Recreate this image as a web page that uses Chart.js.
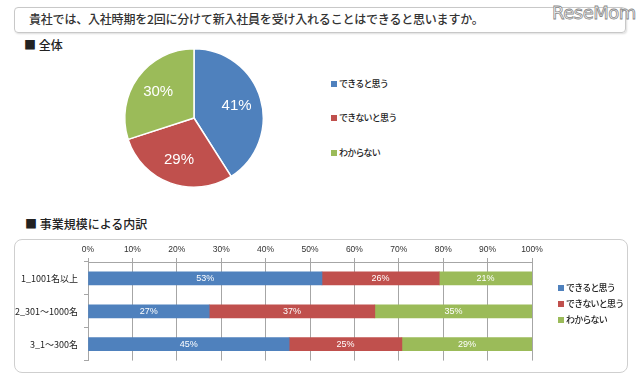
<!DOCTYPE html>
<html><head><meta charset="utf-8">
<script src="https://cdn.jsdelivr.net/npm/chart.js@4/dist/chart.umd.min.js"></script>
<style>
html,body{margin:0;padding:0;background:#fff;width:640px;height:385px;overflow:hidden;font-family:"Noto Sans CJK JP",sans-serif;}
.abs{position:absolute;}
#titlebox{left:14px;top:7px;width:610px;height:24px;border:1px solid #c8c8c8;border-radius:4px;box-shadow:1px 1px 2px #ddd;}
#title{left:29px;top:10px;font-size:12px;color:#333;font-weight:500;letter-spacing:-0.2px;}
#logo{left:552px;top:2px;font-family:"DejaVu Sans",sans-serif;font-size:18px;color:#fff;-webkit-text-stroke:0.8px #888;letter-spacing:-0.5px;}
.h{font-size:12px;color:#222;font-weight:500;}
#barbox{left:14px;top:239px;width:612px;height:132px;border:1px solid #cfcfcf;border-radius:8px;}
.lg{font-size:9px;color:#222;font-weight:500;letter-spacing:-0.8px;}
.sq{display:inline-block;width:6px;height:6px;margin-right:2px;vertical-align:0px;}
</style></head>
<body>
<div class="abs" id="titlebox"></div>
<div class="abs" id="title">貴社では、入社時期を2回に分けて新入社員を受け入れることはできると思いますか。</div>
<div class="abs" id="logo">ReseMom</div>
<div class="abs h" style="left:24px;top:36px;">■ 全体</div>
<div class="abs h" style="left:25px;top:215px;">■ 事業規模による内訳</div>
<div class="abs" id="barbox"></div>
<canvas id="pie" class="abs" style="left:122px;top:46px;" width="144" height="144"></canvas>
<canvas id="bar" class="abs" style="left:14px;top:239px;" width="614" height="133"></canvas>
<div id="pieLegend"></div>
<div id="barLegend"></div>
<script>
const seriesNames = ["できると思う", "できないと思う", "わからない"];
const colors = ["#4F81BD", "#C0504D", "#9BBB59"];
const pieValues = [41, 29, 30];
const categories = ["1_1001名以上", "2_301〜1000名", "3_1〜300名"];
const canValues = [52.7, 27.3, 45.3];
const cannotValues = [26.4, 37.3, 25.4];
const unknownValues = [20.9, 35.4, 29.3];
const xTicks = [0,10,20,30,40,50,60,70,80,90,100];

// HTML legends
function makeLegend(id, left, tops){
  const el = document.getElementById(id);
  seriesNames.forEach((n,i)=>{
    const d = document.createElement('div');
    d.className='abs lg'; d.style.left=left+'px'; d.style.top=tops[i]+'px';
    d.innerHTML = '<span class="sq" style="background:'+colors[i]+'"></span>'+n;
    el.appendChild(d);
  });
}
makeLegend('pieLegend', 331, [77,111,146]);
makeLegend('barLegend', 558, [281,297,313]);

const pieLabelPlugin = {
  id:'pieLabels',
  afterDatasetsDraw(chart){
    const ctx = chart.ctx;
    const meta = chart.getDatasetMeta(0);
    ctx.save();
    ctx.fillStyle='#fff'; ctx.font='15px "Liberation Sans", sans-serif';
    ctx.textAlign='center'; ctx.textBaseline='middle';
    meta.data.forEach((arc,i)=>{
      const p = arc.getProps(['x','y','startAngle','endAngle','outerRadius'], true);
      const a = (p.startAngle+p.endAngle)/2;
      const r = p.outerRadius*0.64;
      ctx.fillText(pieValues[i]+'%', p.x+Math.cos(a)*r, p.y+Math.sin(a)*r);
    });
    ctx.restore();
  }
};

new Chart(document.getElementById('pie'), {
  type:'pie',
  data:{labels:seriesNames, datasets:[{data:pieValues, backgroundColor:colors, borderColor:'#fff', borderWidth:1.5}]},
  options:{responsive:false, animation:false, layout:{padding:2},
    plugins:{legend:{display:false}, tooltip:{enabled:false}}},
  plugins:[pieLabelPlugin]
});

const barLabelPlugin = {
  id:'barLabels',
  afterDatasetsDraw(chart){
    const ctx = chart.ctx;
    ctx.save();
    ctx.fillStyle='#fff'; ctx.font='9px "Liberation Sans", sans-serif';
    ctx.textAlign='center'; ctx.textBaseline='middle';
    chart.data.datasets.forEach((ds,di)=>{
      chart.getDatasetMeta(di).data.forEach((bar,i)=>{
        const p = bar.getProps(['x','y','base'], true);
        ctx.fillText(Math.round(ds.data[i])+'%', (p.x+p.base)/2, p.y+0.5);
      });
    });
    ctx.restore();
  }
};

new Chart(document.getElementById('bar'), {
  type:'bar',
  data:{labels:categories, datasets:[
    {label:seriesNames[0], data:canValues, backgroundColor:colors[0]},
    {label:seriesNames[1], data:cannotValues, backgroundColor:colors[1]},
    {label:seriesNames[2], data:unknownValues, backgroundColor:colors[2]}
  ]},
  options:{indexAxis:'y', responsive:false, animation:false,
    layout:{padding:{left:0,top:4,right:96,bottom:10}},
    datasets:{bar:{barThickness:13, borderWidth:0}},
    plugins:{legend:{display:false}, tooltip:{enabled:false}},
    scales:{
      x:{position:'top', stacked:true, min:0, max:100,
        afterBuildTicks(s){ s.ticks = xTicks.map(v=>({value:v})); },
        afterFit(s){ s.height = 19; },
        ticks:{callback:v=>v+'%', color:'#333', font:{size:8.5, family:'"Liberation Sans", sans-serif'}, padding:3, maxRotation:0},
        grid:{color:'#a6a6a6', lineWidth:1, tickLength:4, drawTicks:true},
        border:{color:'#a6a6a6'}
      },
      y:{stacked:true,
        afterFit(s){ s.width = 74; },
        ticks:{color:'#222', font:{size:9, family:'"Noto Sans CJK JP", sans-serif'}, padding:6},
        grid:{offset:true, drawOnChartArea:false, tickLength:4, color:'#a6a6a6'},
        border:{color:'#a6a6a6'}
      }
    }
  },
  plugins:[barLabelPlugin]
});
</script>
</body></html>
